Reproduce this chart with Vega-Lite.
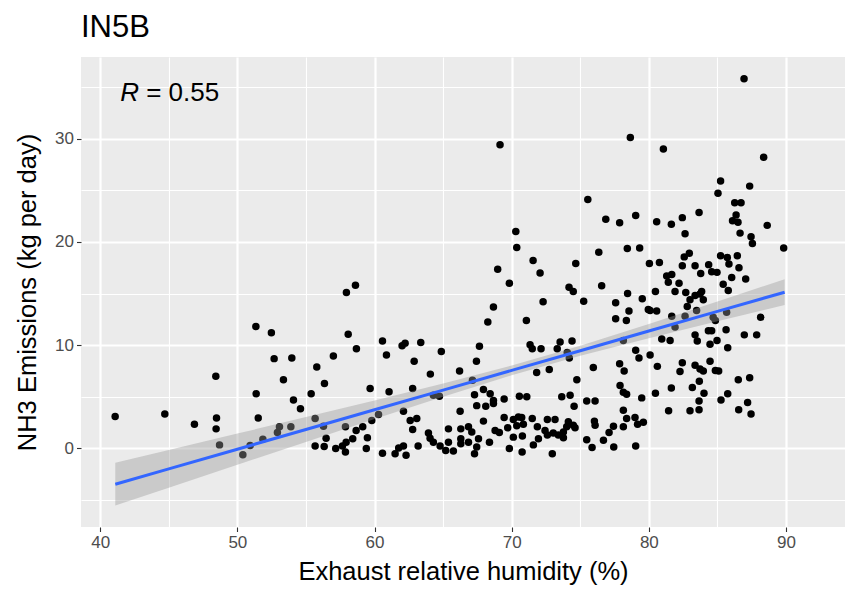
{
  "$schema": "https://vega.github.io/schema/vega-lite/v6.json",
  "width": 764,
  "height": 470,
  "autosize": {"type": "none"},
  "padding": {"left": 81, "top": 57, "right": 2, "bottom": 66},
  "background": "white",
  "config": {
    "view": {"fill": "#EBEBEB", "stroke": null},
    "font": "Liberation Sans",
    "axis": {
      "domain": false,
      "gridColor": "white",
      "tickColor": "#333333",
      "tickSize": 4.5,
      "tickWidth": 1.1,
      "labelColor": "#4D4D4D",
      "labelFontSize": 17,
      "titleFontSize": 25.5,
      "titleFontWeight": "normal",
      "titleColor": "black",
      "labelPadding": 3
    }
  },
  "title": {"text": "IN5B", "anchor": "start", "frame": "group", "fontSize": 31, "fontWeight": "normal", "color": "black", "offset": 13},
  "datasets": {
    "points": [
      {"x":69.15,"y":29.4},{"x":78.65,"y":30.1},{"x":75.55,"y":24.1},{"x":76.86,"y":22.2},{"x":79.04,"y":22.55},
      {"x":86.94,"y":35.8},{"x":81.06,"y":29.0},{"x":88.37,"y":28.2},{"x":85.23,"y":25.9},{"x":87.35,"y":25.4},{"x":85.04,"y":24.7},{"x":86.26,"y":23.8},{"x":86.72,"y":23.8},{"x":83.66,"y":22.85},{"x":82.44,"y":22.35},{"x":86.36,"y":22.6},
      {"x":80.57,"y":21.95},{"x":81.64,"y":21.7},{"x":82.64,"y":20.8},{"x":86.1,"y":22.05},{"x":86.5,"y":21.9},{"x":88.63,"y":21.6},{"x":86.65,"y":20.85},{"x":87.45,"y":20.5},{"x":87.55,"y":19.85},{"x":89.83,"y":19.4},
      {"x":80.04,"y":17.9},{"x":80.77,"y":18.0},{"x":82.95,"y":18.9},{"x":82.58,"y":18.55},{"x":82.44,"y":17.7},{"x":83.37,"y":17.7},{"x":83.78,"y":16.95},{"x":84.36,"y":17.8},{"x":84.58,"y":17.1},{"x":84.97,"y":17.05},{"x":85.23,"y":18.65},{"x":85.72,"y":18.5},{"x":86.45,"y":18.65},{"x":85.84,"y":17.85},{"x":86.57,"y":17.5},{"x":86.04,"y":16.55},{"x":87.06,"y":16.4},{"x":81.3,"y":16.7},{"x":81.67,"y":16.85},{"x":81.42,"y":16.1},{"x":82.2,"y":16.0},{"x":85.42,"y":15.9},{"x":85.79,"y":15.3},{"x":80.48,"y":15.2},{"x":81.91,"y":15.2},{"x":82.69,"y":15.1},{"x":83.85,"y":15.2},{"x":83.73,"y":14.95},{"x":83.37,"y":14.8},{"x":83.0,"y":14.4},{"x":83.97,"y":14.4},{"x":82.8,"y":13.75},{"x":80.09,"y":13.35},{"x":80.57,"y":13.3},{"x":81.67,"y":12.8},{"x":83.48,"y":13.35},{"x":82.64,"y":12.8},{"x":84.69,"y":12.7},{"x":85.67,"y":13.2},{"x":81.91,"y":11.75},{"x":84.85,"y":12.4},{"x":88.15,"y":12.7},{"x":84.34,"y":11.4},{"x":84.58,"y":11.4},{"x":85.63,"y":11.5},{"x":83.37,"y":11.0},{"x":80.94,"y":10.6},{"x":81.55,"y":10.45},{"x":86.96,"y":11.0},{"x":87.86,"y":11.0},{"x":83.53,"y":10.4},{"x":84.46,"y":10.1},{"x":84.97,"y":10.45},{"x":85.75,"y":9.75},{"x":80.09,"y":9.05},{"x":82.44,"y":8.3},{"x":80.62,"y":7.95},{"x":84.46,"y":8.45},{"x":83.37,"y":8.05},{"x":83.73,"y":7.7},{"x":82.27,"y":7.45},{"x":84.85,"y":7.55},{"x":85.09,"y":7.5},
      {"x":83.97,"y":7.5},{"x":86.52,"y":6.65},{"x":87.35,"y":6.85},{"x":83.68,"y":6.5},{"x":83.17,"y":5.9},{"x":81.64,"y":5.85},{"x":80.48,"y":5.35},{"x":84.02,"y":5.35},{"x":85.75,"y":5.3},{"x":85.26,"y":4.7},{"x":83.66,"y":4.6},{"x":87.2,"y":4.45},{"x":81.44,"y":3.65},{"x":83.0,"y":3.65},{"x":83.66,"y":3.75},{"x":86.55,"y":3.75},{"x":87.45,"y":3.35},
      {"x":70.3,"y":21.0},{"x":70.37,"y":19.45},{"x":68.98,"y":17.35},{"x":69.83,"y":16.0},{"x":71.56,"y":18.2},{"x":72.07,"y":17.0},{"x":74.67,"y":17.9},{"x":76.35,"y":19.0},{"x":77.87,"y":21.85},{"x":78.43,"y":19.35},{"x":79.33,"y":19.4},{"x":76.56,"y":15.75},{"x":74.18,"y":15.6},{"x":74.49,"y":15.2},{"x":75.25,"y":14.25},{"x":72.29,"y":14.2},{"x":68.67,"y":13.7},{"x":68.26,"y":12.25},{"x":71.07,"y":12.4},{"x":78.45,"y":15.0},{"x":79.52,"y":14.5},{"x":77.58,"y":14.1},{"x":78.55,"y":13.3},{"x":77.58,"y":12.55},{"x":78.36,"y":12.4},{"x":79.96,"y":13.45},
      {"x":67.65,"y":9.9},{"x":67.43,"y":8.45},{"x":71.34,"y":10.05},{"x":71.5,"y":9.65},{"x":72.14,"y":9.65},{"x":73.53,"y":10.3},{"x":73.32,"y":9.65},{"x":74.05,"y":9.3},{"x":74.2,"y":8.75},{"x":74.4,"y":10.4},{"x":78.14,"y":10.45},{"x":79.04,"y":9.5},{"x":79.28,"y":8.75},{"x":75.95,"y":7.85},{"x":77.87,"y":8.2},{"x":72.74,"y":7.65},{"x":71.82,"y":7.35},{"x":78.2,"y":7.5},{"x":66.2,"y":7.5},
      {"x":57.95,"y":15.1},{"x":58.61,"y":15.8},{"x":51.35,"y":11.8},{"x":52.48,"y":11.2},{"x":58.08,"y":11.05},{"x":60.58,"y":10.4},{"x":60.87,"y":9.05},{"x":62.01,"y":9.95},{"x":62.23,"y":10.2},{"x":63.37,"y":10.25},{"x":64.87,"y":9.4},{"x":62.89,"y":8.45},{"x":58.68,"y":9.65},{"x":57.0,"y":8.95},{"x":52.68,"y":8.7},{"x":53.97,"y":8.75},{"x":55.79,"y":7.9},{"x":64.07,"y":7.2},
      {"x":48.43,"y":7.0},{"x":51.37,"y":5.3},{"x":41.09,"y":3.1},{"x":44.71,"y":3.35},{"x":46.87,"y":2.35},{"x":48.48,"y":2.95},{"x":48.45,"y":1.9},{"x":51.52,"y":2.95},{"x":48.7,"y":0.35},{"x":50.93,"y":0.3},{"x":51.86,"y":0.9},{"x":50.4,"y":-0.6},
      {"x":53.36,"y":6.65},{"x":56.35,"y":6.3},{"x":55.38,"y":5.3},{"x":54.09,"y":4.7},{"x":54.6,"y":3.85},{"x":59.68,"y":5.8},{"x":61.06,"y":5.5},{"x":62.78,"y":5.8},{"x":64.29,"y":5.15},{"x":64.73,"y":5.05},{"x":66.24,"y":3.6},{"x":62.11,"y":3.6},{"x":62.6,"y":2.7},{"x":63.08,"y":2.9},{"x":62.78,"y":1.85},{"x":53.07,"y":2.1},{"x":52.92,"y":1.55},{"x":53.9,"y":2.1},{"x":55.67,"y":2.9},{"x":56.28,"y":2.15},{"x":56.47,"y":1.0},{"x":56.33,"y":0.2},{"x":55.67,"y":0.25},{"x":57.88,"y":2.1},{"x":57.17,"y":0.0},{"x":57.66,"y":0.25},{"x":57.88,"y":-0.35},{"x":57.93,"y":0.6},{"x":58.41,"y":0.95},{"x":58.66,"y":1.75},{"x":59.14,"y":2.1},{"x":59.48,"y":1.05},{"x":59.4,"y":0.0},{"x":59.8,"y":2.7},{"x":60.29,"y":3.3},{"x":60.58,"y":-0.45},{"x":61.5,"y":-0.5},{"x":61.76,"y":0.05},{"x":62.11,"y":0.25},{"x":62.3,"y":-0.65},{"x":63.18,"y":0.25},{"x":63.93,"y":1.5},{"x":64.05,"y":1.0},{"x":64.29,"y":0.6},{"x":64.78,"y":0.25},{"x":65.19,"y":-0.2},{"x":65.75,"y":-0.25},{"x":65.39,"y":1.9},{"x":65.39,"y":0.6},{"x":66.29,"y":1.9},{"x":66.29,"y":0.95},{"x":66.29,"y":0.45},
      {"x":74.75,"y":6.65},{"x":67.14,"y":6.6},{"x":67.29,"y":5.2},{"x":67.94,"y":5.7},{"x":68.43,"y":5.3},{"x":68.67,"y":4.65},{"x":68.67,"y":4.35},{"x":67.45,"y":4.15},{"x":68.11,"y":4.1},{"x":69.45,"y":4.8},{"x":70.56,"y":5.05},{"x":71.1,"y":5.0},{"x":67.94,"y":2.65},{"x":69.45,"y":3.0},{"x":70.12,"y":2.8},{"x":70.49,"y":3.05},{"x":70.73,"y":3.0},{"x":70.37,"y":2.2},{"x":70.85,"y":2.35},{"x":69.71,"y":2.0},{"x":71.5,"y":2.9},{"x":71.87,"y":2.1},{"x":72.6,"y":2.8},{"x":73.16,"y":2.8},{"x":73.65,"y":5.0},{"x":74.26,"y":5.15},{"x":74.55,"y":4.1},{"x":74.13,"y":2.6},{"x":74.49,"y":2.25},{"x":74.62,"y":2.0},{"x":74.01,"y":2.1},{"x":75.47,"y":4.6},{"x":76.08,"y":4.6},{"x":76.03,"y":2.65},{"x":76.08,"y":2.25},{"x":72.43,"y":1.75},{"x":72.6,"y":1.3},{"x":73.03,"y":1.5},{"x":73.4,"y":1.3},{"x":73.77,"y":1.6},{"x":73.77,"y":1.05},{"x":71.95,"y":0.95},{"x":71.58,"y":0.35},{"x":68.79,"y":1.75},{"x":69.1,"y":1.55},{"x":68.38,"y":0.6},{"x":70.12,"y":1.1},{"x":70.78,"y":1.2},{"x":69.83,"y":0.0},{"x":70.76,"y":-0.35},{"x":72.96,"y":-0.5},{"x":66.85,"y":2.1},{"x":67.09,"y":1.6},{"x":66.85,"y":0.6},{"x":67.58,"y":0.95},{"x":67.45,"y":0.15},{"x":67.29,"y":-0.5},{"x":75.47,"y":0.85},{"x":75.86,"y":0.1},{"x":76.69,"y":0.8},{"x":77.1,"y":1.55},{"x":77.42,"y":2.15},{"x":77.44,"y":0.15},{"x":78.14,"y":2.1},{"x":78.14,"y":3.7},{"x":78.38,"y":2.9},{"x":78.99,"y":3.0},{"x":79.18,"y":2.35},{"x":79.6,"y":2.55},{"x":79.04,"y":0.25},{"x":77.9,"y":6.1},{"x":78.14,"y":5.45},{"x":78.38,"y":5.25},{"x":79.48,"y":4.9}
    ],
    "fit": [
      {"x":41.1,"y":-3.46,"lo":-5.53,"hi":-1.39},
      {"x":45,"y":-1.97,"lo":-3.79,"hi":-0.15},
      {"x":50,"y":-0.07,"lo":-1.58,"hi":1.44},
      {"x":55,"y":1.84,"lo":0.64,"hi":3.04},
      {"x":60,"y":3.75,"lo":2.85,"hi":4.65},
      {"x":65,"y":5.65,"lo":5.01,"hi":6.29},
      {"x":70,"y":7.56,"lo":7.09,"hi":8.03},
      {"x":75,"y":9.46,"lo":8.97,"hi":9.95},
      {"x":80,"y":11.37,"lo":10.68,"hi":12.06},
      {"x":85,"y":13.27,"lo":12.31,"hi":14.23},
      {"x":89.9,"y":15.13,"lo":13.88,"hi":16.38}
    ],
    "lblR": [{"x":41.46,"y":34.45,"t":"R"}],
    "lblV": [{"x":43.35,"y":34.45,"t":"= 0.55"}]
  },
  "encoding": {
    "x": {
      "field": "x", "type": "quantitative",
      "scale": {"domain": [38.6, 94.3], "nice": false, "zero": false},
      "axis": {
        "title": "Exhaust relative humidity (%)",
        "values": [40,45,50,55,60,65,70,75,80,85,90],
        "labelExpr": "datum.value % 10 === 0 ? datum.label : ''",
        "tickOpacity": {"condition": {"test": "datum.value % 10 !== 0", "value": 0}, "value": 1},
        "gridWidth": {"condition": {"test": "datum.value % 10 !== 0", "value": 1.1}, "value": 2.2},
        "titlePadding": 9
      }
    },
    "y": {
      "field": "y", "type": "quantitative",
      "scale": {"domain": [-7.6, 37.9], "nice": false, "zero": false},
      "axis": {
        "title": "NH3 Emissions (kg per day)",
        "values": [-5,0,5,10,15,20,25,30,35],
        "labelExpr": "datum.value % 10 === 0 ? datum.label : ''",
        "tickOpacity": {"condition": {"test": "datum.value % 10 !== 0", "value": 0}, "value": 1},
        "gridWidth": {"condition": {"test": "datum.value % 10 !== 0", "value": 1.1}, "value": 2.2},
        "titlePadding": 14
      }
    }
  },
  "layer": [
    {
      "data": {"name": "points"},
      "mark": {"type": "circle", "size": 56, "color": "black", "opacity": 1}
    },
    {
      "data": {"name": "fit"},
      "mark": {"type": "area", "color": "#999999", "opacity": 0.4},
      "encoding": {
        "y": {
          "field": "lo", "type": "quantitative",
          "scale": {"domain": [-7.6, 37.9], "nice": false, "zero": false},
          "axis": {
            "title": "NH3 Emissions (kg per day)",
            "values": [-5,0,5,10,15,20,25,30,35],
            "labelExpr": "datum.value % 10 === 0 ? datum.label : ''",
            "tickOpacity": {"condition": {"test": "datum.value % 10 !== 0", "value": 0}, "value": 1},
            "gridWidth": {"condition": {"test": "datum.value % 10 !== 0", "value": 1.1}, "value": 2.2},
            "titlePadding": 14
          }
        },
        "y2": {"field": "hi"}
      }
    },
    {
      "data": {"name": "fit"},
      "mark": {"type": "line", "color": "#3366FF", "strokeWidth": 3}
    },
    {
      "data": {"name": "lblR"},
      "mark": {"type": "text", "align": "left", "baseline": "middle", "fontSize": 26, "fontStyle": "italic", "color": "black"},
      "encoding": {"text": {"field": "t"}}
    },
    {
      "data": {"name": "lblV"},
      "mark": {"type": "text", "align": "left", "baseline": "middle", "fontSize": 26, "color": "black"},
      "encoding": {"text": {"field": "t"}}
    }
  ]
}
